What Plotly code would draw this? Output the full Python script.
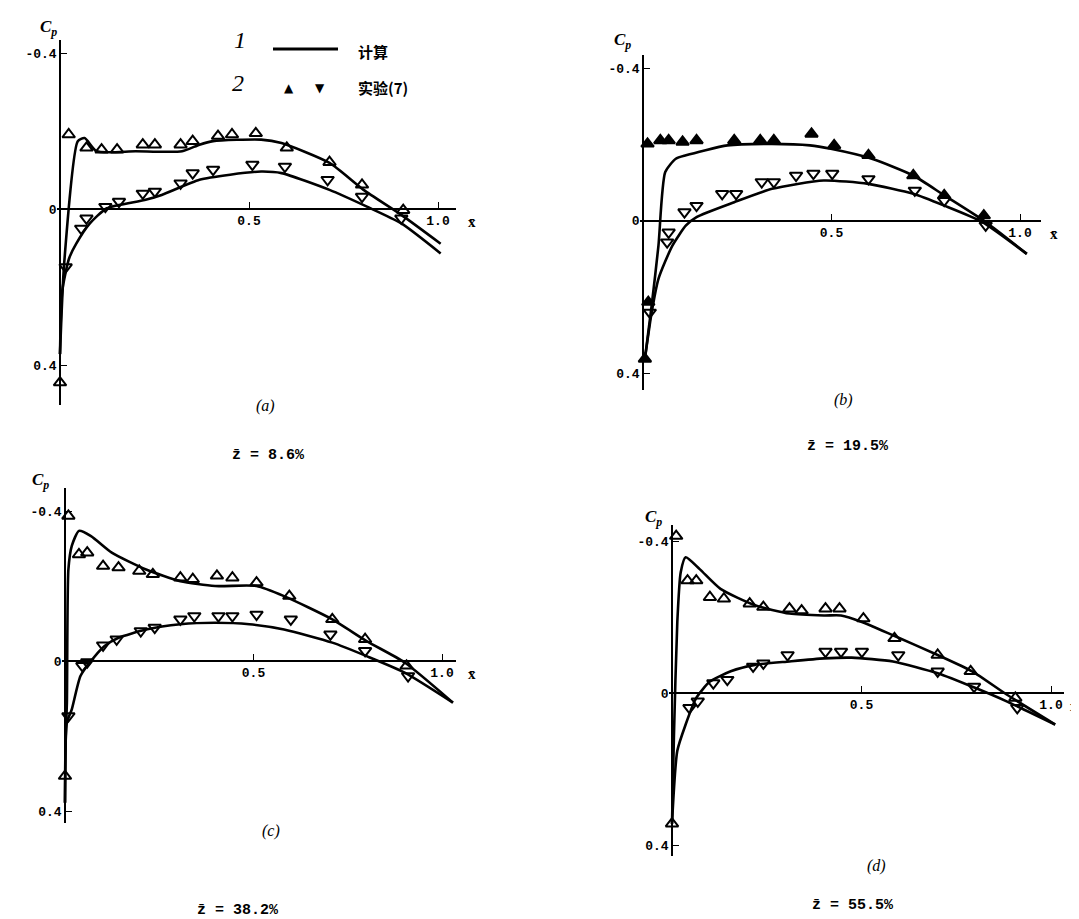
import plotly.graph_objects as go

# ---------------- data ----------------
# panel (a)  z = 8.6%
a_calc_up_x = [0, 0.011, 0.047, 0.065, 0.097, 0.2, 0.323, 0.369, 0.405, 0.532, 0.586, 0.713, 0.803, 0.903, 1.007]
a_calc_up_cp = [0.372, 0.14, -0.174, -0.182, -0.148, -0.148, -0.148, -0.165, -0.174, -0.178, -0.169, -0.118, -0.049, 0.015, 0.089]
a_calc_lo_x = [0, 0.006, 0.024, 0.043, 0.079, 0.124, 0.224, 0.269, 0.369, 0.45, 0.532, 0.586, 0.713, 0.812, 0.903, 1.007]
a_calc_lo_cp = [0.372, 0.209, 0.127, 0.089, 0.037, -0.002, -0.023, -0.036, -0.075, -0.088, -0.096, -0.092, -0.049, -0.006, 0.037, 0.114]
a_exp_up_x = [0.0, 0.023, 0.07, 0.11, 0.151, 0.219, 0.251, 0.319, 0.351, 0.418, 0.455, 0.518, 0.6, 0.713, 0.799, 0.908]
a_exp_up_cp = [0.445, -0.191, -0.157, -0.152, -0.152, -0.165, -0.165, -0.165, -0.174, -0.187, -0.191, -0.194, -0.157, -0.120, -0.062, 0.003]
a_exp_lo_x = [0.015, 0.056, 0.07, 0.12, 0.156, 0.219, 0.251, 0.319, 0.351, 0.405, 0.509, 0.595, 0.708, 0.799, 0.903]
a_exp_lo_cp = [0.149, 0.05, 0.024, -0.006, -0.019, -0.040, -0.045, -0.066, -0.092, -0.101, -0.114, -0.109, -0.075, -0.032, 0.024]

# panel (b)  z = 19.5%
b_calc_up_x = [0.005, 0.023, 0.041, 0.059, 0.087, 0.114, 0.224, 0.342, 0.443, 0.498, 0.607, 0.717, 0.799, 0.909, 1.018]
b_calc_up_cp = [0.363, 0.223, 0.066, -0.127, -0.162, -0.171, -0.197, -0.201, -0.197, -0.188, -0.162, -0.118, -0.066, 0.004, 0.0875]
b_calc_lo_x = [0.005, 0.023, 0.041, 0.078, 0.114, 0.142, 0.242, 0.342, 0.479, 0.598, 0.717, 0.799, 0.9, 1.018]
b_calc_lo_cp = [0.363, 0.241, 0.153, 0.066, 0.013, -0.009, -0.048, -0.083, -0.105, -0.096, -0.070, -0.039, 0.004, 0.0875]
b_exp_up_x = [0.005, 0.014, 0.012, 0.046, 0.068, 0.105, 0.142, 0.242, 0.311, 0.347, 0.447, 0.507, 0.598, 0.717, 0.799, 0.904]
b_exp_up_cp = [0.363, 0.214, -0.201, -0.21, -0.21, -0.206, -0.21, -0.21, -0.21, -0.21, -0.227, -0.197, -0.171, -0.118, -0.066, -0.013]
b_exp_lo_x = [0.018, 0.064, 0.068, 0.11, 0.142, 0.21, 0.247, 0.315, 0.347, 0.406, 0.452, 0.502, 0.598, 0.721, 0.799, 0.909]
b_exp_lo_cp = [0.241, 0.057, 0.031, -0.022, -0.039, -0.07, -0.07, -0.101, -0.101, -0.118, -0.123, -0.123, -0.109, -0.079, -0.052, 0.013]

# panel (c)  z = 38.2%
c_calc_up_x = [0, 0.002, 0.005, 0.009, 0.018, 0.037, 0.069, 0.124, 0.215, 0.306, 0.398, 0.508, 0.581, 0.709, 0.8, 0.901, 1.029]
c_calc_up_cp = [0.378, 0.2, 0.111, -0.244, -0.307, -0.347, -0.333, -0.289, -0.244, -0.213, -0.2, -0.2, -0.173, -0.111, -0.053, 0.004, 0.111]
c_calc_lo_x = [0, 0.005, 0.018, 0.041, 0.069, 0.105, 0.142, 0.215, 0.306, 0.398, 0.489, 0.581, 0.709, 0.8, 0.901, 1.029]
c_calc_lo_cp = [0.378, 0.164, 0.129, 0.04, 0, -0.04, -0.062, -0.084, -0.098, -0.102, -0.098, -0.084, -0.049, -0.013, 0.031, 0.111]
c_exp_up_x = [0, 0.009, 0.037, 0.059, 0.101, 0.142, 0.197, 0.233, 0.306, 0.339, 0.403, 0.444, 0.508, 0.595, 0.709, 0.796, 0.906]
c_exp_up_cp = [0.307, -0.387, -0.284, -0.289, -0.253, -0.249, -0.24, -0.231, -0.222, -0.218, -0.227, -0.222, -0.209, -0.173, -0.111, -0.058, 0.013]
c_exp_lo_x = [0.009, 0.046, 0.059, 0.101, 0.137, 0.201, 0.238, 0.306, 0.343, 0.407, 0.444, 0.508, 0.599, 0.704, 0.796, 0.91]
c_exp_lo_cp = [0.147, 0.013, 0.003, -0.042, -0.058, -0.08, -0.089, -0.111, -0.12, -0.12, -0.12, -0.124, -0.111, -0.071, -0.027, 0.04]

# panel (d)  z = 55.5%
d_calc_up_x = [0, 0.005, 0.014, 0.023, 0.036, 0.073, 0.128, 0.219, 0.31, 0.401, 0.446, 0.501, 0.583, 0.701, 0.792, 0.883, 1.011]
d_calc_up_cp = [0.344, 0.117, -0.187, -0.318, -0.357, -0.326, -0.274, -0.231, -0.209, -0.204, -0.204, -0.187, -0.152, -0.1, -0.057, 0.004, 0.083]
d_calc_lo_x = [0, 0.014, 0.036, 0.064, 0.1, 0.155, 0.219, 0.31, 0.401, 0.474, 0.583, 0.701, 0.801, 0.883, 1.011]
d_calc_lo_cp = [0.344, 0.152, 0.083, 0.013, -0.03, -0.057, -0.074, -0.083, -0.091, -0.093, -0.083, -0.052, -0.013, 0.022, 0.083]
d_exp_up_x = [0, 0.011, 0.041, 0.064, 0.1, 0.137, 0.205, 0.241, 0.31, 0.342, 0.405, 0.442, 0.505, 0.587, 0.701, 0.788, 0.906]
d_exp_up_cp = [0.344, -0.413, -0.296, -0.296, -0.252, -0.248, -0.235, -0.226, -0.222, -0.217, -0.222, -0.222, -0.196, -0.144, -0.1, -0.057, 0.013]
d_exp_lo_x = [0.046, 0.068, 0.109, 0.146, 0.214, 0.241, 0.305, 0.405, 0.446, 0.501, 0.597, 0.701, 0.797, 0.911]
d_exp_lo_cp = [0.039, 0.022, -0.026, -0.035, -0.07, -0.078, -0.1, -0.109, -0.109, -0.109, -0.1, -0.057, -0.017, 0.039]

panel_letters = ["(a)", "(b)", "(c)", "(d)"]
span_labels = ["z̄ = 8.6%", "z̄ = 19.5%", "z̄ = 38.2%", "z̄ = 55.5%"]
y_tick_vals = [-0.4, 0, 0.4]
y_tick_text = ["-0.4", "0", "0.4"]
x_tick_vals = [0.5, 1.0]
x_tick_text = ["0.5", "1.0"]
legend_calc = "计算"
legend_exp = "实验(7)"

# ---------------- layout geometry (pixels) ----------------
W, H = 1079, 919

panels = [
    dict(px0=52, px1=430, pyT=45, pyB=357, dom_x=(49, 448), dom_y=(32, 397),
         cu=(a_calc_up_x, a_calc_up_cp), cl=(a_calc_lo_x, a_calc_lo_cp),
         eu=(a_exp_up_x, a_exp_up_cp), el=(a_exp_lo_x, a_exp_lo_cp), filled=False,
         cp_lab=(40, 20), let=(257, 398), span=(260, 447), xbar=464),
    dict(px0=635, px1=1012, pyT=60, pyB=365, dom_x=(632, 1033), dom_y=(47, 382),
         cu=(b_calc_up_x, b_calc_up_cp), cl=(b_calc_lo_x, b_calc_lo_cp),
         eu=(b_exp_up_x, b_exp_up_cp), el=(b_exp_lo_x, b_exp_lo_cp), filled=True,
         cp_lab=(614, 33), let=(835, 392), span=(840, 438), xbar=1046),
    dict(px0=57, px1=434, pyT=503, pyB=803, dom_x=(54, 448), dom_y=(480, 815),
         cu=(c_calc_up_x, c_calc_up_cp), cl=(c_calc_lo_x, c_calc_lo_cp),
         eu=(c_exp_up_x, c_exp_up_cp), el=(c_exp_lo_x, c_exp_lo_cp), filled=False,
         cp_lab=(32, 473), let=(263, 823), span=(230, 902), xbar=464),
    dict(px0=664, px1=1043, pyT=533, pyB=837, dom_x=(661, 1056), dom_y=(517, 848),
         cu=(d_calc_up_x, d_calc_up_cp), cl=(d_calc_lo_x, d_calc_lo_cp),
         eu=(d_exp_up_x, d_exp_up_cp), el=(d_exp_lo_x, d_exp_lo_cp), filled=False,
         cp_lab=(645, 510), let=(868, 858), span=(845, 897), xbar=1066),
]


def fx(px):
    return px / W


def fy(py):
    return 1 - py / H


def note(px, py, text, font, xanchor="center"):
    return dict(x=fx(px), y=fy(py), xref="paper", yref="paper", text=text, showarrow=False,
                xanchor=xanchor, yanchor="middle", font=font)


fig = go.Figure()
tick_font = dict(family="Liberation Mono", size=13, color="black", weight="bold")
annotations = []
layout_axes = {}

for i, p in enumerate(panels):
    n = "" if i == 0 else str(i + 1)
    sx = p["px1"] - p["px0"]
    sy = (p["pyB"] - p["pyT"]) / 0.8
    py0 = (p["pyT"] + p["pyB"]) / 2
    xr = [(p["dom_x"][0] - p["px0"]) / sx, (p["dom_x"][1] - p["px0"]) / sx]
    y_top = (p["dom_y"][0] - py0) / sy
    y_bot = (p["dom_y"][1] - py0) / sy
    layout_axes["xaxis" + n] = dict(
        domain=[fx(p["dom_x"][0]), fx(p["dom_x"][1])], range=xr,
        anchor="free", position=fy(py0),
        showline=True, linecolor="black", linewidth=1.6,
        ticks="inside", ticklen=6, tickwidth=1.4, tickcolor="black",
        tickvals=x_tick_vals, ticktext=x_tick_text,
        tickfont=tick_font, showgrid=False, zeroline=False)
    layout_axes["yaxis" + n] = dict(
        domain=[fy(p["dom_y"][1]), fy(p["dom_y"][0])], range=[y_bot, y_top],
        anchor="free", position=fx(p["px0"]),
        showline=True, linecolor="black", linewidth=1.6,
        ticks="inside", ticklen=6, tickwidth=1.4, tickcolor="black",
        tickvals=y_tick_vals, ticktext=y_tick_text,
        tickfont=tick_font, showgrid=False, zeroline=False)
    xa, ya = "x" + n, "y" + n
    for key in ("cu", "cl"):
        xs, ys = p[key]
        fig.add_trace(go.Scatter(x=xs, y=ys, mode="lines", xaxis=xa, yaxis=ya,
                                 line=dict(color="black", width=2.6, shape="spline", smoothing=0.6),
                                 showlegend=False, hoverinfo="skip"))
    xs, ys = p["eu"]
    fig.add_trace(go.Scatter(x=xs, y=ys, mode="markers", xaxis=xa, yaxis=ya, cliponaxis=False,
                             marker=dict(symbol="triangle-up" if p["filled"] else "triangle-up-open",
                                         size=11, color="black", line=dict(width=2, color="black")),
                             showlegend=False))
    xs, ys = p["el"]
    fig.add_trace(go.Scatter(x=xs, y=ys, mode="markers", xaxis=xa, yaxis=ya, cliponaxis=False,
                             marker=dict(symbol="triangle-down-open", size=11, color="black",
                                         line=dict(width=2, color="black")),
                             showlegend=False))
    # axis titles and captions
    annotations.append(note(p["cp_lab"][0], p["cp_lab"][1], "<b><i>C</i></b><sub><b><i>p</i></b></sub>",
                            dict(family="Liberation Serif", size=17, color="black")))
    annotations.append(note(p["xbar"], py0 + 13, "<b>x̄</b>",
                            dict(family="Liberation Serif", size=15, color="black")))
    annotations.append(note(p["let"][0], p["let"][1], "<i>%s</i>" % panel_letters[i],
                            dict(family="Liberation Serif", size=16, color="black")))
    annotations.append(note(p["span"][0], p["span"][1], span_labels[i],
                            dict(family="Liberation Mono", size=15, color="black", weight="bold")))

# legend (top of panel a)
annotations += [
    note(232, 32, "<i>1</i>", dict(family="Liberation Serif", size=24, color="black")),
    note(230, 75, "<i>2</i>", dict(family="Liberation Serif", size=24, color="black")),
    note(348, 43, legend_calc, dict(family="Noto Sans CJK SC", size=15, color="black", weight="bold"),
         xanchor="left"),
    note(348, 80, legend_exp, dict(family="Noto Sans CJK SC", size=15, color="black", weight="bold"),
         xanchor="left"),
    note(281, 80, "▲", dict(family="DejaVu Sans", size=12, color="black")),
    note(312, 80, "▼", dict(family="DejaVu Sans", size=12, color="black")),
]
shapes = [dict(type="line", xref="paper", yref="paper", x0=fx(265), x1=fx(330), y0=fy(41), y1=fy(41),
               line=dict(color="black", width=3))]

fig.update_layout(width=W, height=H, margin=dict(l=0, r=0, t=0, b=0),
                  paper_bgcolor="white", plot_bgcolor="white",
                  annotations=annotations, shapes=shapes, showlegend=False, **layout_axes)

fig.write_html("out.html")
